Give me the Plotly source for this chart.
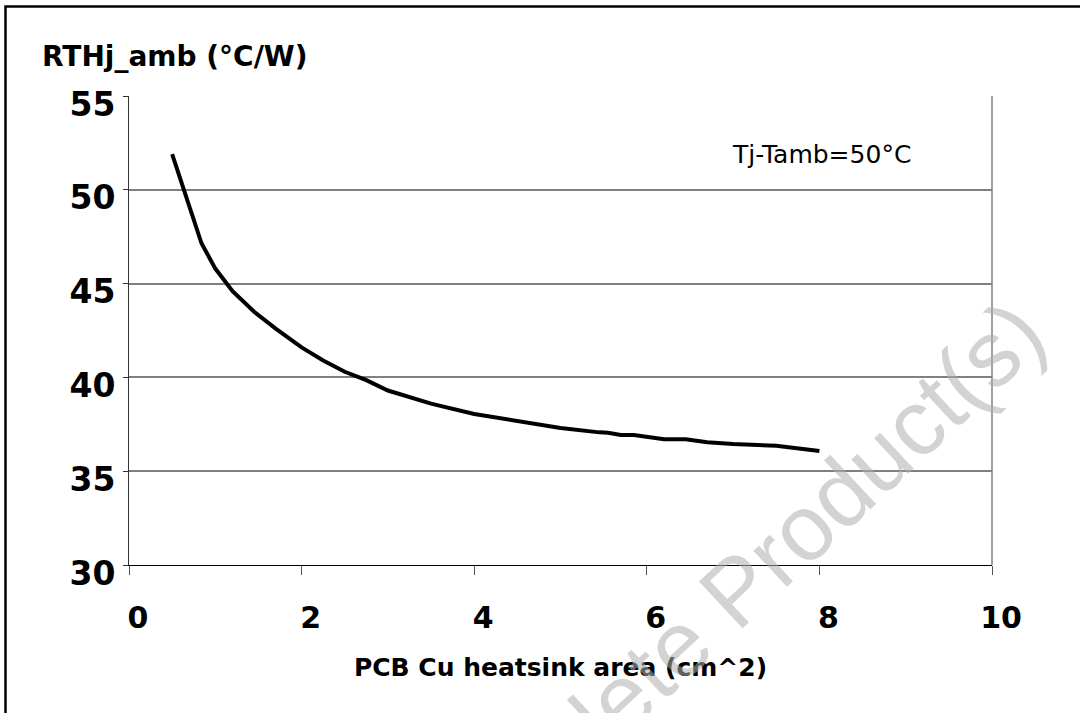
import plotly.graph_objects as go

# Data
area_cm2 = [0.5, 0.84, 1.0, 1.2, 1.45, 1.7, 2.0, 2.25, 2.5, 2.75, 3.0, 3.5, 4.0, 4.5,
            5.0, 5.45, 5.55, 5.7, 5.85, 6.2, 6.45, 6.7, 7.0, 7.5, 8.0]
rth_j_amb = [51.9, 47.15, 45.8, 44.6, 43.5, 42.6, 41.6, 40.9, 40.3, 39.85, 39.3, 38.6,
             38.05, 37.65, 37.3, 37.07, 37.05, 36.93, 36.93, 36.7, 36.7, 36.54, 36.45,
             36.36, 36.08]
x_ticks = [0, 2, 4, 6, 8, 10]
y_ticks = [30, 35, 40, 45, 50, 55]

W, H = 1080, 713
L, R, T, B = 129, 88, 96, 148
PW, PH = W - L - R, H - T - B

def px(xp):
    return (xp - L) / PW

def py(yp):
    return 1 - (yp - T) / PH

FONT = "DejaVu Sans, Verdana, sans-serif"

fig = go.Figure()
fig.add_trace(go.Scatter(x=area_cm2, y=rth_j_amb, mode="lines",
                         line=dict(color="black", width=4), showlegend=False,
                         hoverinfo="skip"))

fig.update_layout(
    width=W, height=H,
    margin=dict(l=L, r=R, t=T, b=B, pad=0),
    paper_bgcolor="white", plot_bgcolor="white",
    font=dict(family=FONT, color="black"),
    xaxis=dict(range=[0, 10], tickvals=x_ticks, ticktext=[str(v) for v in x_ticks],
               showgrid=False, zeroline=False, showline=True, linecolor="black",
               linewidth=1, ticks="outside", ticklen=9, tickcolor="#555555",
               tickfont=dict(family=FONT, size=30, color="black", weight="bold"),
               ticklabelshift=9, ticklabelstandoff=17,
               title=dict(text="<b>PCB Cu heatsink area (cm^2)</b>",
                          font=dict(family=FONT, size=25, color="black"), standoff=24)),
    yaxis=dict(range=[30, 55], tickvals=y_ticks, ticktext=[str(v) for v in y_ticks],
               showgrid=True, gridcolor="#808080", gridwidth=1.5, zeroline=False,
               showline=True, linecolor="#333333", linewidth=1, ticks="outside",
               ticklen=5, tickcolor="#333333",
               tickfont=dict(family=FONT, size=33, color="black", weight="bold"),
               ticklabelshift=8, ticklabelstandoff=1),
)

# right border of plot area
fig.add_shape(type="line", xref="paper", yref="paper", x0=1, x1=1, y0=0, y1=1,
              line=dict(color="#808080", width=1.5))
# outer frame
fig.add_shape(type="rect", xref="paper", yref="paper",
              x0=px(5.5), x1=px(1120), y0=py(760), y1=py(6.5),
              line=dict(color="black", width=2.5), fillcolor="rgba(0,0,0,0)")

# y axis title at top-left
fig.add_annotation(xref="paper", yref="paper", x=px(40), y=py(56),
                   xanchor="left", yanchor="middle", showarrow=False,
                   text="<b>RTHj_amb (°C/W)</b>",
                   font=dict(family=FONT, size=28, color="black"))
# condition note
fig.add_annotation(xref="paper", yref="paper", x=px(730), y=py(155),
                   xanchor="left", yanchor="middle", showarrow=False,
                   text="Tj-Tamb=50°C",
                   font=dict(family=FONT, size=25, color="black"))
# watermark
fig.add_annotation(xref="paper", yref="paper", x=px(726), y=py(600),
                   xanchor="center", yanchor="middle", showarrow=False,
                   text="Obsolete Product(s)", textangle=-43,
                   font=dict(family="Liberation Sans, Arial", size=93,
                             color="rgba(175,175,175,0.55)"))

fig.write_html("out.html", config={"displayModeBar": False},
               post_script="document.body.style.margin='0';")
